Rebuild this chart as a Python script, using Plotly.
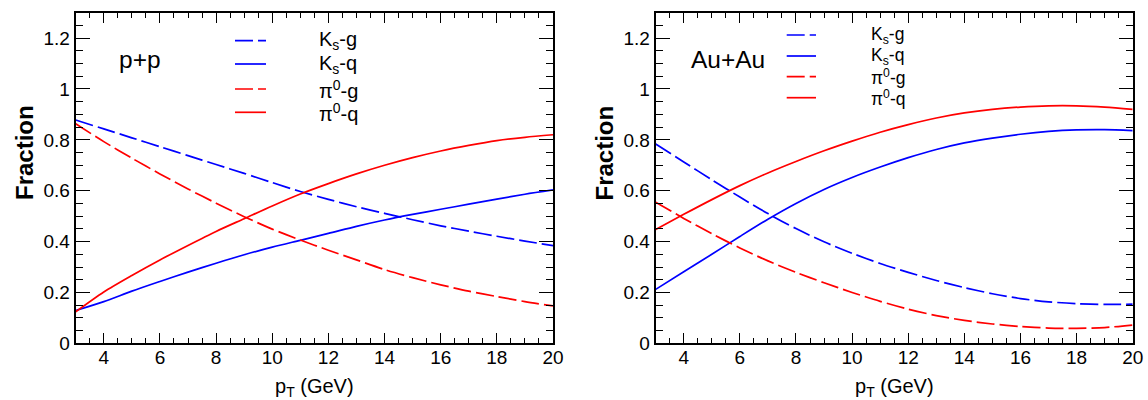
import plotly.graph_objects as go

# transverse momentum grid (GeV)
pt = list(range(3, 21))

# p+p fractions
pp_ks_g = [0.878, 0.843, 0.808, 0.773, 0.738, 0.703, 0.668, 0.632, 0.597, 0.566,
           0.537, 0.511, 0.486, 0.462, 0.441, 0.421, 0.402, 0.384]
pp_ks_q = [0.129, 0.164, 0.205, 0.243, 0.280, 0.315, 0.348, 0.378, 0.405, 0.432,
           0.460, 0.485, 0.507, 0.527, 0.547, 0.567, 0.586, 0.603]
pp_pi_g = [0.863, 0.793, 0.728, 0.666, 0.607, 0.551, 0.498, 0.449, 0.406, 0.366,
           0.328, 0.290, 0.258, 0.230, 0.205, 0.184, 0.164, 0.147]
pp_pi_q = [0.124, 0.202, 0.267, 0.328, 0.385, 0.440, 0.490, 0.540, 0.587, 0.628,
           0.666, 0.700, 0.730, 0.756, 0.778, 0.797, 0.810, 0.820]

# Au+Au fractions
aa_ks_g = [0.784, 0.713, 0.643, 0.575, 0.510, 0.451, 0.399, 0.354, 0.314, 0.279,
           0.247, 0.219, 0.195, 0.176, 0.163, 0.156, 0.153, 0.154]
aa_ks_q = [0.212, 0.281, 0.350, 0.420, 0.488, 0.550, 0.605, 0.652, 0.693, 0.730,
           0.762, 0.788, 0.807, 0.822, 0.833, 0.839, 0.840, 0.836]
aa_pi_g = [0.555, 0.491, 0.431, 0.375, 0.324, 0.279, 0.238, 0.200, 0.165, 0.134,
           0.109, 0.090, 0.076, 0.066, 0.060, 0.059, 0.062, 0.072]
aa_pi_q = [0.447, 0.507, 0.565, 0.620, 0.670, 0.715, 0.757, 0.795, 0.830, 0.860,
           0.886, 0.906, 0.920, 0.929, 0.934, 0.934, 0.929, 0.920]

series_names = ["K<sub>s</sub>-g", "K<sub>s</sub>-q", "π<sup>0</sup>-g", "π<sup>0</sup>-q"]
series_colors = ["#0000ff", "#0000ff", "#ff0000", "#ff0000"]
DASH = "18px,5px"
series_dash = [DASH, "solid", DASH, "solid"]

panels = [
    dict(label="p+p", data=[pp_ks_g, pp_ks_q, pp_pi_g, pp_pi_q], xa="x", ya="y"),
    dict(label="Au+Au", data=[aa_ks_g, aa_ks_q, aa_pi_g, aa_pi_q], xa="x2", ya="y2"),
]

W, H = 1148, 400
FONT = "Liberation Sans, Arial, Helvetica, sans-serif"


def px(x):
    return x / W


def py(y):
    return 1 - y / H


fig = go.Figure()
for p in panels:
    for name, vals, col, dash in zip(series_names, p["data"], series_colors, series_dash):
        fig.add_trace(go.Scatter(
            x=pt, y=vals, name=name, mode="lines",
            line=dict(color=col, width=1.7, dash=dash, shape="spline", smoothing=0.8),
            xaxis=p["xa"], yaxis=p["ya"], showlegend=False,
        ))

x_common = dict(
    range=[3, 20], tickmode="linear", tick0=0, dtick=2,
    ticks="inside", ticklen=10, tickwidth=1, tickcolor="black",
    showline=True, linewidth=2, linecolor="black", mirror="allticks",
    showgrid=False, zeroline=False, automargin=False, ticklabelstandoff=-4,
    tickfont=dict(family=FONT, size=19, color="black"),
    minor=dict(ticks="inside", ticklen=5, dtick=0.5, tick0=0,
               tickwidth=1, tickcolor="black", showgrid=False),
)
y_common = dict(
    range=[0, 1.3], tickmode="linear", tick0=0, dtick=0.2,
    ticks="inside", ticklen=14, tickwidth=1, tickcolor="black",
    showline=True, linewidth=2, linecolor="black", mirror="allticks",
    showgrid=False, zeroline=False, automargin=False,
    tickfont=dict(family=FONT, size=19, color="black"),
    minor=dict(ticks="inside", ticklen=7, dtick=0.05, tick0=0,
               tickwidth=1, tickcolor="black", showgrid=False),
)

ydom = [py(343.3), py(12.7)]
fig.update_layout(
    width=W, height=H,
    margin=dict(l=0, r=0, t=0, b=0),
    paper_bgcolor="white", plot_bgcolor="white",
    font=dict(family=FONT, color="black"),
    xaxis=dict(domain=[px(75.7), px(553)], anchor="y", **x_common),
    yaxis=dict(domain=ydom, anchor="x", **y_common),
    xaxis2=dict(domain=[px(655.7), px(1132.7)], anchor="y2", **x_common),
    yaxis2=dict(domain=ydom, anchor="x2", **y_common),
)

annotations = []
shapes = []

# axis titles
for left, right, ylab_x in [(75.7, 553, 24), (655.7, 1132.7, 603.5)]:
    annotations.append(dict(
        text="p<sub>T</sub> (GeV)", x=px((left + right) / 2), y=py(387),
        xref="paper", yref="paper", xanchor="center", yanchor="middle",
        showarrow=False, font=dict(family=FONT, size=20, color="black")))
    annotations.append(dict(
        text="<b>Fraction</b>", x=px(ylab_x), y=py(153), textangle=-90,
        xref="paper", yref="paper", xanchor="center", yanchor="middle",
        showarrow=False, font=dict(family=FONT, size=24, color="black")))

# collision-system labels
for p, lab_x in zip(panels, [117, 689]):
    annotations.append(dict(
        text=p["label"], x=px(lab_x), y=py(59.5),
        xref="paper", yref="paper", xanchor="left", yanchor="middle",
        showarrow=False, font=dict(family=FONT, size=24.5, color="black")))

# legend boxes: sample line span, text start, row positions, font size
legend_specs = [
    dict(x0=235, x1=266, tx=317, rows=[40.7, 64.0, 89.0, 112.3], size=20),
    dict(x0=786.7, x1=816, tx=869, rows=[35.0, 56.0, 76.7, 97.7], size=17.5),
]
for spec in legend_specs:
    for name, col, dash, ry in zip(series_names, series_colors, series_dash, spec["rows"]):
        shapes.append(dict(
            type="line", xref="paper", yref="paper",
            x0=px(spec["x0"]), x1=px(spec["x1"]), y0=py(ry), y1=py(ry),
            line=dict(color=col, width=1.7, dash=dash)))
        annotations.append(dict(
            text=name, x=px(spec["tx"]), y=py(ry),
            xref="paper", yref="paper", xanchor="left", yanchor="middle",
            showarrow=False, font=dict(family=FONT, size=spec["size"], color="black")))

fig.update_layout(annotations=annotations, shapes=shapes)
fig.write_html("out.html")
